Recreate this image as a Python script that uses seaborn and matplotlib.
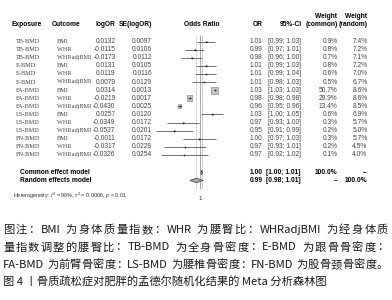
import re
import numpy as np
import pandas as pd
import matplotlib
matplotlib.use("Agg")
import matplotlib.pyplot as plt
import seaborn as sns
from matplotlib.ticker import NullLocator

# datos
exposures = ["TB-BMD"] * 3 + ["E-BMD"] * 3 + ["FA-BMD"] * 3 + ["LS-BMD"] * 3 + ["FN-BMD"] * 3
outcomes = ["BMI", "WHR", "WHRadjBMI"] * 5
log_or = [0.0132, -0.0115, -0.0173, 0.0131, 0.0119, 0.0079, 0.0314, -0.0219,
          -0.0430, 0.0257, -0.0349, -0.0537, -0.0011, -0.0317, -0.0326]
se_log_or = [0.0097, 0.0106, 0.0112, 0.0105, 0.0116, 0.0129, 0.0013, 0.0017,
             0.0025, 0.0120, 0.0172, 0.0201, 0.0172, 0.0228, 0.0254]
w_common = [0.9, 0.8, 0.7, 0.8, 0.6, 0.5, 50.7, 29.9, 13.4, 0.6, 0.3, 0.2, 0.3, 0.2, 0.1]
w_random = [7.4, 7.2, 7.1, 7.2, 7.0, 6.7, 8.6, 8.6, 8.5, 6.9, 5.7, 5.0, 5.7, 4.5, 4.0]
tau2 = 0.0006

caption = [
    "图注：BMI 为身体质量指数：WHR 为腰臀比：WHRadjBMI 为经身体质",
    "量指数调整的腰臀比：TB-BMD 为全身骨密度：E-BMD 为跟骨骨密度：",
    "FA-BMD 为前臂骨密度：LS-BMD 为腰椎骨密度：FN-BMD 为股骨颈骨密度。",
    "图 4 丨骨质疏松症对肥胖的孟德尔随机化结果的 Meta 分析森林图",
]

sns.set_theme(style="white")
plt.rcParams["font.family"] = ["Liberation Sans", "DejaVu Sans"]
plt.rcParams["mathtext.fontset"] = "custom"
plt.rcParams["mathtext.rm"] = "Liberation Sans"
plt.rcParams["mathtext.it"] = "Liberation Sans:italic"

# tabla
df = pd.DataFrame({"exposure": exposures, "outcome": outcomes,
                   "logor": log_or, "se": se_log_or,
                   "wc": w_common, "wr": w_random})
df["y"] = 41.5 + np.arange(len(df)) * 8.1
df["or"] = np.exp(df["logor"])
df["lo"] = np.exp(df["logor"] - 1.96 * df["se"])
df["hi"] = np.exp(df["logor"] + 1.96 * df["se"])

# modelos combinados
wi = 1 / df["se"] ** 2
fe = (wi * df["logor"]).sum() / wi.sum()
fe_se = 1 / np.sqrt(wi.sum())
wri = 1 / (df["se"] ** 2 + tau2)
re_ = (wri * df["logor"]).sum() / wri.sum()
re_se = 1 / np.sqrt(wri.sum())
pooled = pd.DataFrame({
    "name": ["Common effect model", "Random effects model"],
    "est": [fe, re_], "se": [fe_se, re_se],
    "y": [172.5, 180.5],
    "wc": ["100.0%", "\u2013"], "wr": ["--", "100.0%"]})
pooled["or"] = np.exp(pooled["est"])
pooled["lo"] = np.exp(pooled["est"] - 1.96 * pooled["se"])
pooled["hi"] = np.exp(pooled["est"] + 1.96 * pooled["se"])

fig = plt.figure(figsize=(3.92, 3.0), dpi=100)
bg = fig.add_axes([0, 0, 1, 1])
bg.set_xlim(0, 392)
bg.set_ylim(300, 0)
bg.axis("off")

hdr = dict(fontsize=4.8, fontweight="bold", color="black", va="center")
val = dict(fontsize=4.8, color="#444444", va="center")
lab = dict(fontsize=4.5, color="#444444", va="center", family="Liberation Serif")

bg.text(12, 24.5, "Exposure", ha="left", **hdr)
bg.text(52, 24.5, "Outcome", ha="left", **hdr)
bg.text(115.5, 24.5, "logOR", ha="right", **hdr)
bg.text(152, 24.5, "SE(logOR)", ha="right", **hdr)
bg.text(202, 24.5, "Odds Ratio", ha="center", **hdr)
bg.text(262.5, 24.5, "OR", ha="right", **hdr)
bg.text(302, 24.5, "95%-CI", ha="right", **hdr)
bg.text(337.5, 16.5, "Weight", ha="right", **hdr)
bg.text(337.5, 24.5, "(common)", ha="right", **hdr)
bg.text(367.5, 16.5, "Weight", ha="right", **hdr)
bg.text(367.5, 24.5, "(random)", ha="right", **hdr)

for _, r in df.iterrows():
    bg.text(16, r.y, r.exposure, ha="left", **lab)
    bg.text(57, r.y, r.outcome, ha="left", **lab)
    bg.text(115.5, r.y, f"{r.logor:.4f}", ha="right", **val)
    bg.text(152, r.y, f"{r.se:.4f}", ha="right", **val)
    bg.text(262.5, r.y, f"{r['or']:.2f}", ha="right", **val)
    bg.text(301, r.y, f"[{r.lo:.2f}; {r.hi:.2f}]", ha="right", **val)
    bg.text(337.5, r.y, f"{r.wc:.1f}%", ha="right", **val)
    bg.text(367.5, r.y, f"{r.wr:.1f}%", ha="right", **val)

for _, r in pooled.iterrows():
    bg.text(20, r.y, r["name"], ha="left", **hdr)
    bg.text(262.5, r.y, f"{r['or']:.2f}", ha="right", **hdr)
    bg.text(301, r.y, f"[{r.lo:.2f}; {r.hi:.2f}]", ha="right", **hdr)
    bg.text(337.5, r.y, r.wc, ha="right", **hdr)
    bg.text(367.5, r.y, r.wr, ha="right", **hdr)

bg.text(13, 196, r"Heterogeneity: $I^2$ = 99%, $\tau^2$ = 0.0006, $p$ < 0.01",
        ha="left", va="center", fontsize=4, color="#333333")

# pie de figura: las tres primeras líneas justificadas
renderer = fig.canvas.get_renderer()
cap = dict(ha="left", va="center", fontsize=8.1, color="#1a1a1a",
           family=["Noto Sans CJK SC", "DejaVu Sans"])
left, right = 3, 388


def text_width(s):
    t = bg.text(0, 0, s.replace(" ", "\u00a0"), **cap)
    w = t.get_window_extent(renderer).width
    t.remove()
    return w


for i, line in enumerate(caption):
    y = 230 + i * 17.5
    if i == len(caption) - 1:
        bg.text(left, y, line, **cap)
        continue
    tokens = re.findall(r"[A-Za-z0-9\-]+|.", line)
    widths = [text_width(tk) for tk in tokens]
    gap = (right - left - sum(widths)) / (len(tokens) - 1)
    x = left
    for tk, w in zip(tokens, widths):
        if tk != " ":
            bg.text(x, y, tk, **cap)
        x += w + gap

# panel del forest plot
x0 = 200 - np.log(1 / 0.9) * 476
ax = fig.add_axes([x0 / 392, 0, np.log(1.1 / 0.9) * 476 / 392, 1])
ax.patch.set_alpha(0)
ax.set_xscale("log")
ax.set_xlim(0.9, 1.1)
ax.set_ylim(300, 0)
for s in ax.spines.values():
    s.set_visible(False)

ax.vlines(1, 35, 189, color="#9a9a9a", lw=0.6, zorder=1)
ax.vlines(pooled["or"][0], 35, 189, color="#9a9a9a", lw=0.5, ls=(0, (2, 1)), zorder=1)
ax.vlines(pooled["or"][1], 35, 189, color="#9a9a9a", lw=0.5, ls=(0, (1, 1)), zorder=1)

sns.scatterplot(data=df, x="or", y="y", size="wc", sizes=(0, 26), size_norm=(0, 50.7),
                marker="s", color="#c4c4c4", edgecolor="#7a7a7a", linewidth=0.4,
                legend=False, ax=ax, zorder=2)
ax.hlines(df["y"], df["lo"], df["hi"], color="#3a3a3a", lw=0.5, zorder=3)
sns.scatterplot(data=df, x="or", y="y", s=1.5, color="#222222", linewidth=0,
                legend=False, ax=ax, zorder=4)

for _, r in pooled.iterrows():
    ax.fill([r.lo, r["or"], r.hi, r["or"]], [r.y, r.y - 2.3, r.y, r.y + 2.3],
            facecolor="#a8a8a8", edgecolor="#404040", lw=0.5, zorder=4)

ax.set_xticks([1])
ax.set_xticklabels(["1"])
ax.xaxis.set_minor_locator(NullLocator())
ax.spines["bottom"].set_position(("data", 190))
ax.tick_params(axis="x", labelsize=4.5, length=0, pad=4, colors="#333333")
ax.set_yticks([])
ax.set_xlabel("")
ax.set_ylabel("")

fig.savefig("out.png", dpi=100)
